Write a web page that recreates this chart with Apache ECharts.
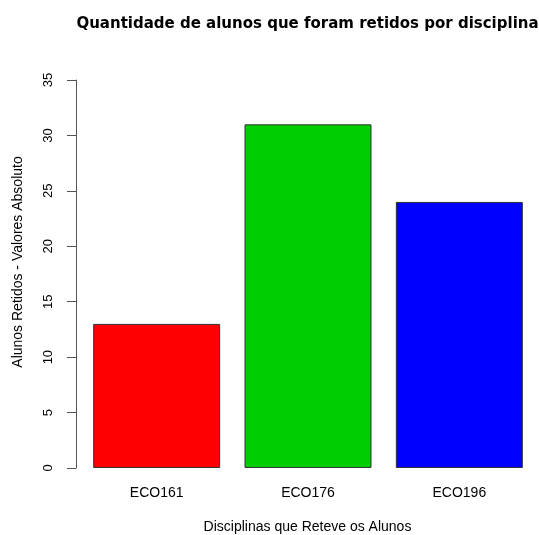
<!DOCTYPE html>
<html>
<head>
<meta charset="utf-8">
<script src="https://cdn.jsdelivr.net/npm/echarts@6/dist/echarts.min.js"></script>
<style>html,body{margin:0;padding:0;background:#fff;}#c{width:539px;height:535px;}</style>
</head>
<body>
<div id="c"></div>
<script>
var categories = ['ECO161', 'ECO176', 'ECO196'];
var values = [13, 31, 24];
var barColors = ['#FF0000', '#00CD00', '#0000FF'];
var yTicks = [0, 5, 10, 15, 20, 25, 30, 35];
var titleText = 'Quantidade de alunos que foram retidos por disciplina';
var xTitle = 'Disciplinas que Reteve os Alunos';
var yTitle = 'Alunos Retidos - Valores Absoluto';

var font = 'Liberation Sans, Arial, Helvetica, sans-serif';
var chart = echarts.init(document.getElementById('c'), null, {renderer: 'canvas'});
chart.setOption({
  animation: false,
  backgroundColor: '#ffffff',
  grid: {left: 81, right: 4, top: 80, bottom: 67},
  graphic: [
    {type: 'text', x: 307.5, y: 24, style: {text: titleText, font: 'bold 15px "DejaVu Sans", sans-serif', fill: '#000', textAlign: 'center', textVerticalAlign: 'middle'}},
    {type: 'text', x: 307.5, y: 527, style: {text: xTitle, font: '14px ' + font, fill: '#000', textAlign: 'center', textVerticalAlign: 'middle'}},
    {type: 'text', x: 18, y: 262, rotation: Math.PI / 2, style: {text: yTitle, font: '14px ' + font, fill: '#000', textAlign: 'center', textVerticalAlign: 'middle'}}
  ],
  xAxis: {
    type: 'category',
    data: categories,
    axisLine: {show: false},
    axisTick: {show: false},
    axisLabel: {margin: 18, fontSize: 14, fontFamily: font, color: '#000'}
  },
  yAxis: {
    type: 'value',
    min: yTicks[0],
    max: yTicks[yTicks.length - 1],
    interval: 5,
    offset: 5,
    splitLine: {show: false},
    axisLine: {show: true, lineStyle: {color: '#555', width: 1}},
    axisTick: {show: true, length: 9, lineStyle: {color: '#555'}},
    axisLabel: {rotate: 90, margin: 21, fontSize: 13, fontFamily: font, color: '#000'}
  },
  series: [{
    type: 'bar',
    barWidth: 127,
    data: values.map(function (v, i) {
      return {value: v, itemStyle: {color: barColors[i], borderColor: '#333', borderWidth: 1}};
    })
  }]
});
</script>
</body>
</html>
